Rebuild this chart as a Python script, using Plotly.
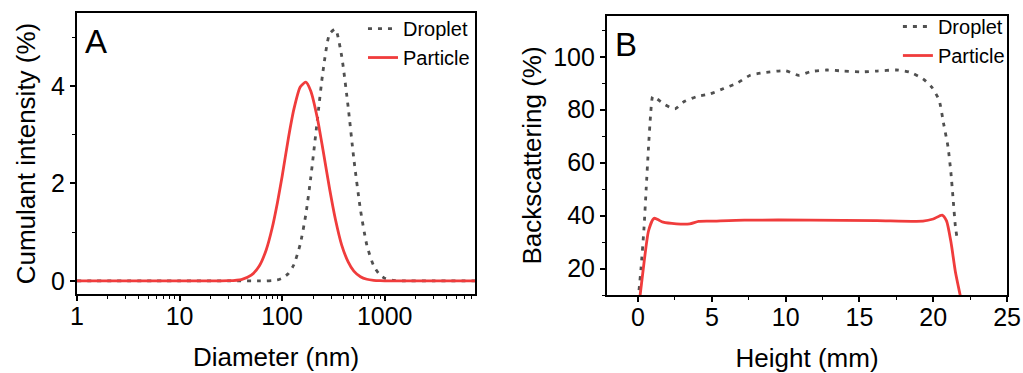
import plotly.graph_objects as go

# ---- Panel A: DLS size distribution ----
diameter_nm = [1, 10, 30, 40, 50, 60, 70, 80, 90, 100, 115, 130, 150, 170, 190, 220,
               250, 290, 330, 380, 440, 500, 580, 670, 780, 900, 1000, 1200, 1500, 3000, 7600]
droplet_intensity = [0, 0, 0, 0, 0, 0, 0, 0.007, 0.02, 0.053, 0.15, 0.33, 0.75, 1.36, 2.12, 3.29,
                     4.30, 5.07, 5.17, 4.62, 3.57, 2.50, 1.46, 0.73, 0.31, 0.12, 0.053, 0.011, 0, 0, 0]
particle_intensity = [0, 0, 0.003, 0.027, 0.115, 0.31, 0.64, 1.09, 1.61, 2.15, 2.93, 3.52, 3.98, 4.08, 3.90, 3.35,
                      2.69, 1.89, 1.27, 0.74, 0.39, 0.20, 0.084, 0.033, 0.011, 0.003, 0, 0, 0, 0, 0]

# ---- Panel B: backscattering profile ----
droplet_height_mm = [0.0, 0.2, 0.4, 0.55, 0.7, 0.85, 1.0, 1.3, 1.8, 2.5, 3.1, 4.0, 4.9, 5.8, 6.7, 7.6, 8.5,
                     10.0, 10.9, 11.7, 12.8, 13.9, 15.1, 16.2, 17.5, 18.4, 19.3, 19.9, 20.4, 20.7, 21.0,
                     21.2, 21.35, 21.5, 21.6]
droplet_bs = [8, 20, 35, 50, 65, 78, 85, 84, 82, 80.3, 83, 85, 86, 88, 90, 93, 94,
              94.7, 93, 94.4, 95, 94.6, 94.3, 94.6, 95, 94.2, 91.7, 88.5, 83.5, 74.8, 66,
              56, 46, 36, 32]
particle_height_mm = [0.1, 0.4, 0.7, 1.0, 1.13, 1.4, 1.7, 2.6, 3.5, 4.1, 4.9, 7.2, 11.7, 16.2, 19.3,
                      20.0, 20.6, 20.9, 21.2, 21.5, 21.8, 21.9]
particle_bs = [8, 22, 34, 38.5, 39.0, 38.3, 37.5, 36.9, 36.9, 37.8, 37.9, 38.3, 38.3, 38.1, 37.9,
               38.7, 40.2, 38.0, 30, 18.8, 10.6, 8]

FONT = "Liberation Sans, Arial, sans-serif"
RED = "#F03C3C"
GRAY = "#505050"

fig = go.Figure()
fig.add_trace(go.Scatter(x=diameter_nm, y=droplet_intensity, mode="lines", name="Droplet",
                         line=dict(color=GRAY, width=2.8, dash="4px,6px", shape="spline", smoothing=0.6),
                         xaxis="x", yaxis="y", legend="legend"))
fig.add_trace(go.Scatter(x=diameter_nm, y=particle_intensity, mode="lines", name="Particle",
                         line=dict(color=RED, width=2.8, shape="spline", smoothing=0.6),
                         xaxis="x", yaxis="y", legend="legend"))
fig.add_trace(go.Scatter(x=droplet_height_mm, y=droplet_bs, mode="lines", name="Droplet",
                         line=dict(color=GRAY, width=2.8, dash="4px,6px", shape="spline", smoothing=0.6),
                         xaxis="x2", yaxis="y2", legend="legend2"))
fig.add_trace(go.Scatter(x=particle_height_mm, y=particle_bs, mode="lines", name="Particle",
                         line=dict(color=RED, width=2.8, shape="spline", smoothing=0.6),
                         xaxis="x2", yaxis="y2", legend="legend2"))

axis_common = dict(showline=True, linecolor="black", linewidth=2.2, mirror=True,
                   ticks="outside", ticklen=5, tickwidth=1.8, tickcolor="black",
                   showgrid=False, zeroline=False, automargin=False,
                   tickfont=dict(family=FONT, size=25, color="black"))
title_font = dict(family=FONT, size=26, color="black")
minor_common = dict(ticks="outside", ticklen=3, tickwidth=1.2, tickcolor="black")

fig.update_layout(
    width=1023, height=373,
    margin=dict(l=0, r=0, t=0, b=0, autoexpand=False),
    paper_bgcolor="white", plot_bgcolor="white",
    font=dict(family=FONT, color="black"),
    xaxis=dict(**axis_common, type="log", domain=[0.0753, 0.4643], range=[0, 3.88], dtick=1,
               minor=dict(**minor_common, dtick="D1"), ticklabelstandoff=-6,
               title=dict(text="Diameter (nm)", font=title_font, standoff=19), anchor="y"),
    yaxis=dict(**axis_common, domain=[0.2118, 0.9651], range=[-0.27, 5.5], dtick=2,
               minor=dict(**minor_common, dtick=1),
               title=dict(text="Cumulant intensity (%)", font=title_font, standoff=8), anchor="x"),
    xaxis2=dict(**axis_common, domain=[0.5934, 0.9844], range=[-2.1, 25], dtick=5,
                minor=dict(**minor_common, dtick=2.5), ticklabelstandoff=-6,
                title=dict(text="Height (mm)", font=title_font, standoff=23), anchor="y2"),
    yaxis2=dict(**axis_common, domain=[0.2091, 0.9571], range=[10, 115.4], dtick=20, tick0=0,
                minor=dict(**minor_common, dtick=10),
                title=dict(text="Backscattering (%)", font=title_font, standoff=4), anchor="x2"),
    legend=dict(x=0.4643, y=0.9758, xanchor="right", yanchor="top", bgcolor="rgba(0,0,0,0)",
                font=dict(family=FONT, size=20, color="black"), tracegroupgap=0,
                itemwidth=30),
    legend2=dict(x=0.9872, y=0.9812, xanchor="right", yanchor="top", bgcolor="rgba(0,0,0,0)",
                 font=dict(family=FONT, size=20, color="black"), tracegroupgap=0,
                 itemwidth=30),
    annotations=[
        dict(text="A", x=0.0753, y=0.9651, xref="paper", yref="paper", xanchor="left", yanchor="top",
             xshift=6, yshift=-8, showarrow=False, font=dict(family=FONT, size=33, color="black")),
        dict(text="B", x=0.5934, y=0.9571, xref="paper", yref="paper", xanchor="left", yanchor="top",
             xshift=6, yshift=-8, showarrow=False, font=dict(family=FONT, size=33, color="black")),
    ],
)

fig.write_html("out.html", config={"displayModeBar": False},
               post_script="document.body.style.margin='0px';document.body.style.padding='0px';document.body.style.overflow='hidden';")
